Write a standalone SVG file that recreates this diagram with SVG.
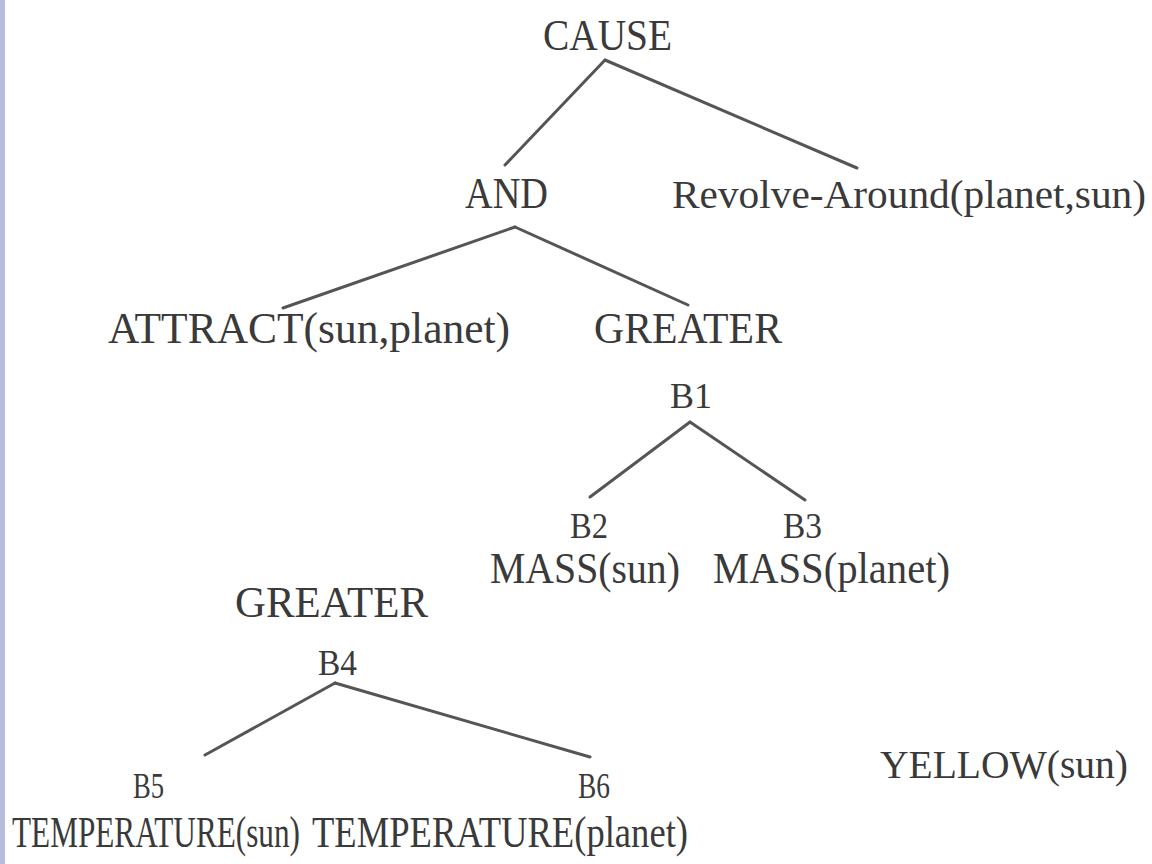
<svg xmlns="http://www.w3.org/2000/svg" width="1152" height="864" viewBox="0 0 1152 864">
<style>
.t{font-family:"Liberation Serif","DejaVu Serif",serif;font-size:44px;fill:#3a3a3a;}
.s{font-size:40px;}
.n{font-size:31px;}
.b{font-family:"Liberation Serif","DejaVu Serif",serif;font-size:36px;fill:#3a3a3a;}
.c line{stroke:#555;stroke-width:3;stroke-linecap:round;}
</style>
<rect x="0" y="0" width="1152" height="864" fill="#ffffff"/>
<rect x="0" y="0" width="5" height="864" fill="#b8bcdc"/>
<g id="connectors" class="c">
<line x1="605" y1="60" x2="505" y2="165"/>
<line x1="605" y1="60" x2="857" y2="168"/>
<line x1="515" y1="227" x2="283" y2="308"/>
<line x1="515" y1="227" x2="688" y2="305"/>
<line x1="690" y1="422" x2="590" y2="497"/>
<line x1="690" y1="422" x2="805" y2="500"/>
<line x1="335" y1="683" x2="205" y2="755"/>
<line x1="335" y1="683" x2="590" y2="757"/>
</g>
<g id="cause"><text class="t" x="543" y="50" textLength="129" lengthAdjust="spacingAndGlyphs">CAUSE</text></g>
<g id="and"><text class="t" x="465" y="208" textLength="83" lengthAdjust="spacingAndGlyphs">AND</text></g>
<g id="revolve"><text class="t s" x="672" y="208" textLength="474" lengthAdjust="spacingAndGlyphs">Revolve-Around(planet,sun)</text></g>
<g id="attract"><text class="t" x="108" y="343" textLength="402" lengthAdjust="spacingAndGlyphs">ATTRACT(sun,planet)</text></g>
<g id="greater1"><text class="t" x="594" y="343" textLength="188" lengthAdjust="spacingAndGlyphs">GREATER</text>
<text class="b" x="670" y="408" textLength="42" lengthAdjust="spacingAndGlyphs">B1</text></g>
<g id="mass-sun"><text class="b" x="570" y="538" textLength="38" lengthAdjust="spacingAndGlyphs">B2</text>
<text class="t" x="490" y="583" textLength="190" lengthAdjust="spacingAndGlyphs">MASS(sun)</text></g>
<g id="mass-planet"><text class="b" x="783" y="538" textLength="39" lengthAdjust="spacingAndGlyphs">B3</text>
<text class="t" x="713" y="583" textLength="237" lengthAdjust="spacingAndGlyphs">MASS(planet)</text></g>
<g id="greater2"><text class="t" x="235" y="617" textLength="193" lengthAdjust="spacingAndGlyphs">GREATER</text>
<text class="b" x="318" y="675" textLength="39" lengthAdjust="spacingAndGlyphs">B4</text></g>
<g id="temp-sun"><text class="b" x="133" y="798" textLength="31" lengthAdjust="spacingAndGlyphs">B5</text>
<text class="t n" x="0" y="0" transform="translate(12,847) scale(1,1.42)" textLength="288" lengthAdjust="spacingAndGlyphs">TEMPERATURE(sun)</text></g>
<g id="temp-planet"><text class="b" x="578" y="798" textLength="32" lengthAdjust="spacingAndGlyphs">B6</text>
<text class="t n" x="0" y="0" transform="translate(312,847) scale(1,1.42)" textLength="376" lengthAdjust="spacingAndGlyphs">TEMPERATURE(planet)</text></g>
<g id="yellow"><text class="t s" x="880" y="778" textLength="248" lengthAdjust="spacingAndGlyphs">YELLOW(sun)</text></g>
</svg>
